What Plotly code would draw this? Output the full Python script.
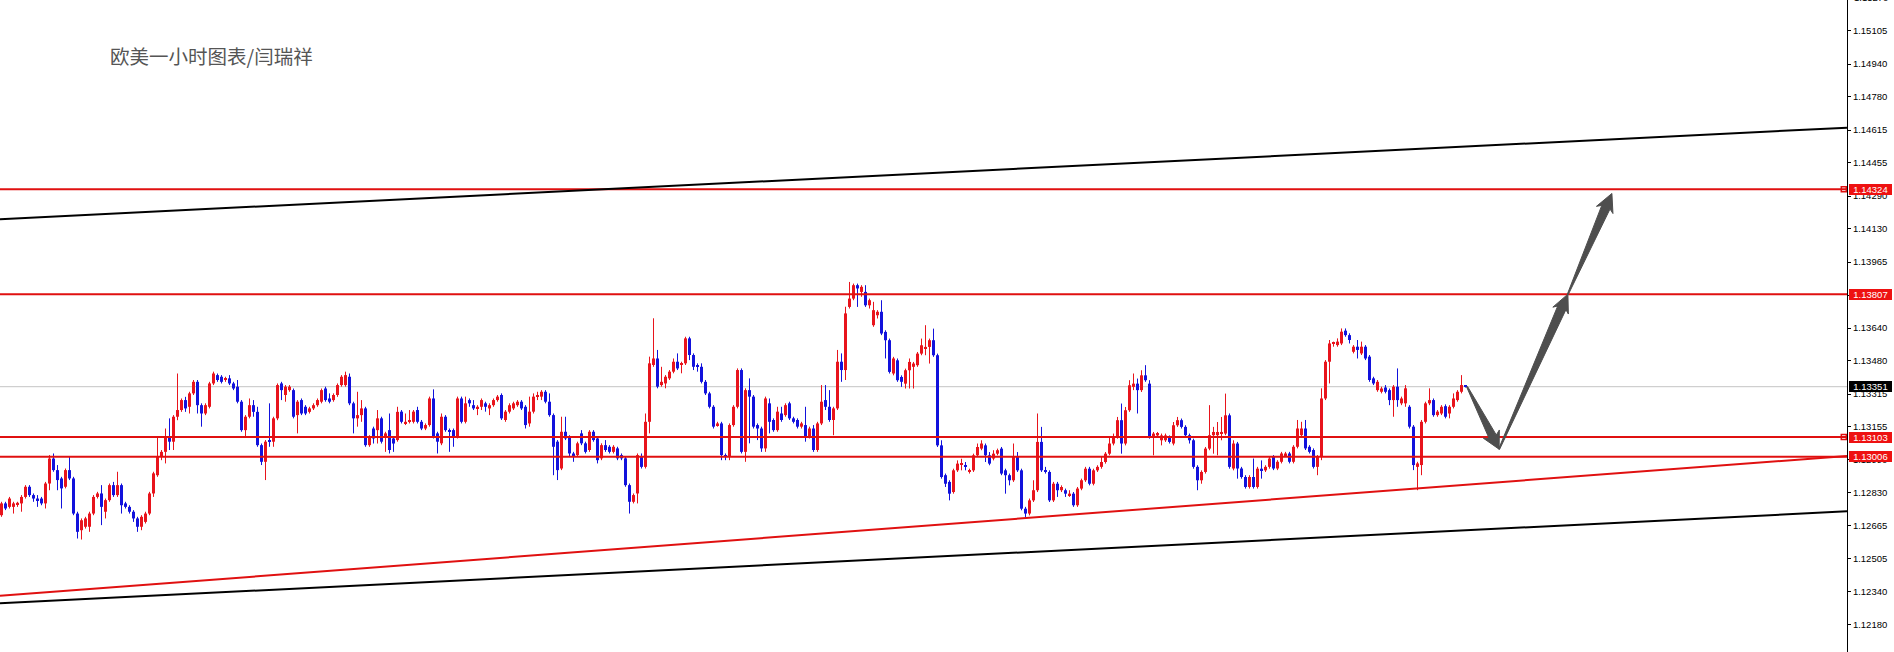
import math
import plotly.graph_objects as go

# ---------------- data (EURUSD 1h) ----------------
opens = [
1.12718,1.12776,1.12759,1.12759,1.12772,1.12776,1.12808,1.12858,1.12817,1.12800,
1.12800,1.12776,1.12874,1.12997,1.12940,1.12899,1.12858,1.12940,1.12899,1.12726,
1.12644,1.12661,1.12661,1.12726,1.12808,1.12825,1.12735,1.12792,1.12866,1.12817,
1.12866,1.12776,1.12759,1.12735,1.12702,1.12661,1.12685,1.12726,1.12825,1.12915,
1.13006,1.13030,1.13104,1.13080,1.13203,1.13236,1.13285,1.13252,1.13318,1.13375,
1.13260,1.13219,1.13252,1.13367,1.13408,1.13400,1.13384,1.13392,1.13367,1.13351,
1.13277,1.13137,1.13203,1.13260,1.13227,1.13063,1.12981,1.13088,1.13080,1.13195,
1.13367,1.13310,1.13334,1.13334,1.13211,1.13285,1.13252,1.13227,1.13244,1.13260,
1.13277,1.13342,1.13293,1.13285,1.13310,1.13359,1.13359,1.13400,1.13269,1.13195,
1.13211,1.13244,1.13063,1.13145,1.13137,1.13195,1.13104,1.13137,1.13096,1.13088,
1.13228,1.13170,1.13178,1.13178,1.13236,1.13178,1.13145,1.13162,1.13293,1.13121,
1.13072,1.13203,1.13137,1.13137,1.13104,1.13293,1.13178,1.13285,1.13260,1.13244,
1.13252,1.13269,1.13244,1.13260,1.13285,1.13310,1.13187,1.13228,1.13244,1.13260,
1.13277,1.13252,1.13170,1.13228,1.13302,1.13302,1.13326,1.13277,1.13211,1.13080,
1.12948,1.13129,1.13104,1.13022,1.13014,1.13121,1.13072,1.13039,1.13129,1.13096,
1.12998,1.13063,1.13055,1.13030,1.13047,1.13014,1.12998,1.12866,1.12784,1.12825,
1.13006,1.12956,1.13178,1.13458,1.13490,1.13359,1.13367,1.13392,1.13425,1.13474,
1.13458,1.13466,1.13589,1.13507,1.13458,1.13449,1.13375,1.13318,1.13252,1.13162,
1.13170,1.13014,1.13006,1.13162,1.13252,1.13433,1.13030,1.13334,1.13302,1.13162,
1.13145,1.13047,1.13269,1.13187,1.13137,1.13219,1.13211,1.13269,1.13195,1.13187,
1.13154,1.13162,1.13104,1.13145,1.13039,1.13170,1.13285,1.13252,1.13187,1.13244,
1.13474,1.13433,1.13744,1.13785,1.13851,1.13818,1.13818,1.13752,1.13654,1.13703,
1.13720,1.13621,1.13580,1.13416,1.13481,1.13399,1.13366,1.13432,1.13449,1.13457,
1.13514,1.13539,1.13547,1.13580,1.13506,1.13062,1.12915,1.12882,1.12832,1.12939,
1.12966,1.12964,1.12931,1.12939,1.13013,1.13046,1.13062,1.13013,1.12997,1.13021,
1.13046,1.12939,1.12915,1.12890,1.13005,1.12939,1.12750,1.12726,1.12791,1.12841,
1.13079,1.12939,1.12931,1.12791,1.12873,1.12841,1.12841,1.12816,1.12824,1.12767,
1.12849,1.12890,1.12947,1.12873,1.12939,1.12956,1.12980,1.13021,1.13071,1.13103,
1.13186,1.13071,1.13235,1.13350,1.13366,1.13334,1.13407,1.13366,1.13103,1.13111,
1.13087,1.13087,1.13103,1.13071,1.13161,1.13186,1.13153,1.13112,1.13087,1.12956,
1.12890,1.12931,1.13046,1.13112,1.13112,1.13120,1.13120,1.13210,1.12948,1.13071,
1.12948,1.12906,1.12857,1.12906,1.12857,1.12947,1.12939,1.12956,1.13006,1.12948,
1.12981,1.13014,1.13022,1.12981,1.13055,1.13112,1.13145,1.13055,1.13039,1.12956,
1.13006,1.13293,1.13474,1.13564,1.13556,1.13564,1.13627,1.13605,1.13523,1.13548,
1.13515,1.13548,1.13499,1.13392,1.13334,1.13326,1.13347,1.13334,1.13285,1.13351,
1.13269,1.13269,1.13252,1.13154,1.12956,1.12965,1.13178,1.13269,1.13285,1.13211,
1.13219,1.13255,1.13219,1.13252,1.13285,1.13326,1.13356,
]

highs = [
1.12784,1.12784,1.12808,1.12784,1.12784,1.12817,1.12866,1.12866,1.12825,1.12817,
1.12808,1.12882,1.13014,1.13022,1.12965,1.12907,1.12948,1.13006,1.12907,1.12735,
1.12702,1.12710,1.12735,1.12817,1.12833,1.12866,1.12800,1.12874,1.12882,1.12932,
1.12874,1.12784,1.12767,1.12743,1.12710,1.12718,1.12735,1.12833,1.12932,1.13108,
1.13039,1.13145,1.13195,1.13211,1.13416,1.13293,1.13301,1.13326,1.13384,1.13384,
1.13269,1.13269,1.13375,1.13425,1.13416,1.13408,1.13400,1.13408,1.13375,1.13384,
1.13285,1.13211,1.13293,1.13285,1.13252,1.13071,1.13088,1.13269,1.13203,1.13367,
1.13375,1.13359,1.13359,1.13342,1.13285,1.13293,1.13260,1.13252,1.13269,1.13293,
1.13342,1.13351,1.13318,1.13318,1.13367,1.13408,1.13425,1.13416,1.13277,1.13326,
1.13285,1.13252,1.13112,1.13154,1.13236,1.13203,1.13129,1.13219,1.13104,1.13252,
1.13236,1.13219,1.13236,1.13236,1.13252,1.13187,1.13170,1.13302,1.13338,1.13129,
1.13219,1.13211,1.13145,1.13145,1.13302,1.13302,1.13302,1.13293,1.13285,1.13260,
1.13293,1.13277,1.13269,1.13293,1.13310,1.13318,1.13236,1.13269,1.13277,1.13285,
1.13285,1.13260,1.13302,1.13318,1.13326,1.13334,1.13334,1.13318,1.13219,1.13088,
1.13203,1.13203,1.13112,1.13030,1.13080,1.13137,1.13080,1.13137,1.13137,1.13104,
1.13072,1.13088,1.13063,1.13063,1.13055,1.13022,1.13006,1.12874,1.12825,1.13022,
1.13022,1.13219,1.13499,1.13688,1.13532,1.13449,1.13408,1.13433,1.13490,1.13515,
1.13474,1.13597,1.13597,1.13515,1.13466,1.13466,1.13384,1.13326,1.13260,1.13178,
1.13178,1.13022,1.13170,1.13260,1.13441,1.13441,1.13343,1.13392,1.13310,1.13170,
1.13154,1.13302,1.13293,1.13195,1.13252,1.13252,1.13269,1.13277,1.13203,1.13195,
1.13178,1.13252,1.13154,1.13162,1.13178,1.13359,1.13359,1.13334,1.13252,1.13532,
1.13515,1.13745,1.13867,1.13859,1.13859,1.13851,1.13851,1.13785,1.13769,1.13728,
1.13777,1.13629,1.13588,1.13498,1.13490,1.13407,1.13440,1.13490,1.13473,1.13522,
1.13588,1.13654,1.13588,1.13637,1.13514,1.13087,1.12923,1.12890,1.12947,1.12988,
1.12996,1.12980,1.12947,1.13021,1.13071,1.13087,1.13071,1.13029,1.13038,1.13046,
1.13054,1.12947,1.12923,1.13071,1.13029,1.12947,1.12759,1.12800,1.12890,1.13219,
1.13153,1.12956,1.12939,1.12882,1.12882,1.12865,1.12849,1.12841,1.12832,1.12857,
1.12898,1.12956,1.12956,1.12947,1.12964,1.13005,1.13029,1.13103,1.13120,1.13202,
1.13268,1.13251,1.13383,1.13416,1.13391,1.13432,1.13457,1.13383,1.13128,1.13128,
1.13120,1.13120,1.13111,1.13177,1.13202,1.13194,1.13161,1.13120,1.13095,1.12964,
1.12939,1.13054,1.13260,1.13153,1.13177,1.13202,1.13317,1.13219,1.13087,1.13079,
1.12956,1.12915,1.12915,1.12997,1.12956,1.12988,1.12964,1.13005,1.13014,1.12989,
1.13030,1.13030,1.13030,1.13063,1.13187,1.13178,1.13187,1.13063,1.13047,1.13014,
1.13343,1.13482,1.13581,1.13573,1.13589,1.13638,1.13638,1.13614,1.13556,1.13581,
1.13573,1.13556,1.13507,1.13400,1.13384,1.13351,1.13359,1.13342,1.13359,1.13441,
1.13302,1.13359,1.13260,1.13162,1.12981,1.13187,1.13277,1.13343,1.13293,1.13236,
1.13260,1.13264,1.13260,1.13318,1.13334,1.13408,1.13359,
]

lows = [
1.12710,1.12743,1.12751,1.12726,1.12759,1.12735,1.12800,1.12808,1.12784,1.12759,
1.12767,1.12751,1.12841,1.12932,1.12841,1.12751,1.12850,1.12891,1.12718,1.12603,
1.12598,1.12652,1.12636,1.12718,1.12800,1.12669,1.12702,1.12784,1.12808,1.12808,
1.12726,1.12751,1.12726,1.12685,1.12636,1.12644,1.12677,1.12718,1.12808,1.12907,
1.12989,1.12973,1.13039,1.13039,1.13186,1.13227,1.13227,1.13219,1.13310,1.13219,
1.13154,1.13211,1.13244,1.13359,1.13375,1.13367,1.13375,1.13359,1.13334,1.13269,
1.13129,1.13104,1.13195,1.13203,1.13055,1.12965,1.12891,1.13055,1.13055,1.13186,
1.13285,1.13277,1.13326,1.13195,1.13121,1.13211,1.13211,1.13219,1.13236,1.13252,
1.13269,1.13277,1.13269,1.13277,1.13301,1.13351,1.13351,1.13260,1.13121,1.13154,
1.13178,1.13055,1.13055,1.13071,1.13071,1.13071,1.13030,1.13022,1.13030,1.13080,
1.13170,1.13162,1.13170,1.13170,1.13170,1.13137,1.13137,1.13154,1.13096,1.13022,
1.13063,1.13129,1.13030,1.13055,1.13096,1.13170,1.13170,1.13252,1.13236,1.13211,
1.13236,1.13228,1.13211,1.13252,1.13277,1.13187,1.13178,1.13219,1.13236,1.13252,
1.13236,1.13145,1.13154,1.13219,1.13285,1.13285,1.13269,1.13203,1.12915,1.12891,
1.12940,1.13088,1.13006,1.12981,1.13006,1.13063,1.13022,1.13030,1.13080,1.12973,
1.12989,1.13030,1.13022,1.13022,1.12989,1.12989,1.12858,1.12726,1.12776,1.12776,
1.12948,1.12948,1.13121,1.13449,1.13343,1.13351,1.13343,1.13384,1.13417,1.13433,
1.13417,1.13458,1.13482,1.13433,1.13425,1.13367,1.13310,1.13244,1.13145,1.13154,
1.12989,1.12989,1.12989,1.13154,1.13244,1.13022,1.12981,1.13072,1.13145,1.13088,
1.13030,1.13030,1.13121,1.13129,1.13129,1.13178,1.13203,1.13187,1.13170,1.13145,
1.13145,1.13080,1.13096,1.13030,1.13030,1.13162,1.13236,1.13178,1.13112,1.13236,
1.13375,1.13384,1.13736,1.13777,1.13744,1.13794,1.13744,1.13736,1.13646,1.13687,
1.13605,1.13490,1.13416,1.13407,1.13375,1.13350,1.13342,1.13342,1.13342,1.13449,
1.13506,1.13506,1.13465,1.13498,1.13054,1.12898,1.12857,1.12791,1.12824,1.12931,
1.12939,1.12939,1.12923,1.12931,1.13005,1.13038,1.12980,1.12964,1.12988,1.13013,
1.12915,1.12824,1.12865,1.12882,1.12931,1.12742,1.12709,1.12717,1.12783,1.12832,
1.12931,1.12923,1.12783,1.12783,1.12808,1.12832,1.12808,1.12808,1.12759,1.12759,
1.12841,1.12882,1.12865,1.12865,1.12931,1.12947,1.12972,1.13013,1.13062,1.13095,
1.13021,1.13062,1.13227,1.13334,1.13219,1.13325,1.13375,1.13095,1.13013,1.13103,
1.13062,1.13079,1.13071,1.13062,1.13153,1.13145,1.13103,1.13071,1.12947,1.12841,
1.12873,1.12923,1.13038,1.13021,1.13013,1.13087,1.13112,1.12947,1.12939,1.12898,
1.12898,1.12849,1.12849,1.12849,1.12849,1.12898,1.12931,1.12947,1.12940,1.12940,
1.12973,1.13006,1.12973,1.12973,1.13047,1.13104,1.13039,1.13022,1.12948,1.12915,
1.12989,1.13285,1.13367,1.13548,1.13548,1.13556,1.13597,1.13564,1.13515,1.13490,
1.13507,1.13482,1.13375,1.13359,1.13326,1.13318,1.13318,1.13260,1.13203,1.13252,
1.13260,1.13252,1.13145,1.12940,1.12841,1.12915,1.13170,1.13260,1.13203,1.13203,
1.13211,1.13195,1.13195,1.13244,1.13277,1.13318,1.13347,
]

closes = [
1.12776,1.12751,1.12800,1.12776,1.12779,1.12808,1.12858,1.12817,1.12800,1.12792,
1.12776,1.12874,1.12997,1.12940,1.12891,1.12850,1.12940,1.12899,1.12726,1.12636,
1.12693,1.12702,1.12726,1.12808,1.12825,1.12759,1.12792,1.12866,1.12817,1.12866,
1.12767,1.12759,1.12735,1.12702,1.12661,1.12710,1.12726,1.12825,1.12924,1.13006,
1.13030,1.13104,1.13080,1.13203,1.13236,1.13285,1.13244,1.13318,1.13375,1.13260,
1.13219,1.13260,1.13367,1.13416,1.13384,1.13375,1.13392,1.13367,1.13342,1.13277,
1.13137,1.13203,1.13260,1.13227,1.13063,1.12981,1.13080,1.13080,1.13195,1.13359,
1.13334,1.13351,1.13351,1.13203,1.13277,1.13219,1.13219,1.13244,1.13260,1.13285,
1.13334,1.13285,1.13277,1.13310,1.13359,1.13400,1.13408,1.13269,1.13195,1.13211,
1.13244,1.13063,1.13104,1.13096,1.13195,1.13080,1.13121,1.13039,1.13071,1.13227,
1.13178,1.13178,1.13187,1.13228,1.13178,1.13145,1.13162,1.13293,1.13104,1.13080,
1.13203,1.13137,1.13129,1.13104,1.13293,1.13178,1.13269,1.13269,1.13244,1.13252,
1.13285,1.13252,1.13260,1.13285,1.13302,1.13195,1.13228,1.13260,1.13269,1.13277,
1.13244,1.13162,1.13228,1.13302,1.13305,1.13326,1.13277,1.13211,1.13055,1.12940,
1.13129,1.13096,1.13022,1.13014,1.13072,1.13072,1.13030,1.13129,1.13088,1.12989,
1.13063,1.13039,1.13030,1.13055,1.12998,1.12998,1.12866,1.12784,1.12817,1.13014,
1.12956,1.13178,1.13466,1.13490,1.13351,1.13375,1.13400,1.13425,1.13474,1.13441,
1.13466,1.13589,1.13507,1.13449,1.13449,1.13375,1.13318,1.13252,1.13154,1.13170,
1.13014,1.13006,1.13162,1.13252,1.13433,1.13030,1.13334,1.13302,1.13154,1.13145,
1.13047,1.13293,1.13178,1.13137,1.13228,1.13187,1.13260,1.13195,1.13178,1.13154,
1.13170,1.13104,1.13145,1.13039,1.13170,1.13277,1.13252,1.13187,1.13244,1.13474,
1.13433,1.13712,1.13785,1.13851,1.13835,1.13843,1.13752,1.13777,1.13728,1.13720,
1.13613,1.13580,1.13424,1.13490,1.13383,1.13375,1.13432,1.13473,1.13465,1.13514,
1.13555,1.13547,1.13580,1.13506,1.13062,1.12906,1.12873,1.12824,1.12939,1.12972,
1.12975,1.12956,1.12939,1.13013,1.13054,1.13071,1.13013,1.12972,1.13021,1.13038,
1.12923,1.12915,1.12890,1.13005,1.12939,1.12750,1.12726,1.12791,1.12841,1.13079,
1.12939,1.12931,1.12791,1.12873,1.12841,1.12857,1.12824,1.12824,1.12767,1.12849,
1.12890,1.12947,1.12873,1.12939,1.12956,1.12980,1.13021,1.13071,1.13103,1.13186,
1.13071,1.13235,1.13358,1.13366,1.13334,1.13407,1.13383,1.13103,1.13120,1.13123,
1.13111,1.13111,1.13079,1.13161,1.13186,1.13153,1.13112,1.13087,1.12956,1.12890,
1.12931,1.13046,1.13112,1.13128,1.13128,1.13128,1.13210,1.12956,1.13071,1.12948,
1.12906,1.12857,1.12906,1.12857,1.12947,1.12939,1.12956,1.12997,1.12948,1.12981,
1.13022,1.13022,1.12981,1.13055,1.13145,1.13145,1.13047,1.13030,1.12956,1.13006,
1.13293,1.13474,1.13564,1.13568,1.13573,1.13622,1.13605,1.13581,1.13548,1.13532,
1.13548,1.13490,1.13384,1.13367,1.13375,1.13342,1.13326,1.13285,1.13351,1.13285,
1.13293,1.13343,1.13154,1.12965,1.12973,1.13178,1.13269,1.13285,1.13211,1.13228,
1.13252,1.13203,1.13252,1.13293,1.13326,1.13359,1.13351,
]

title_text = "欧美一小时图表/闫瑞祥"
price_ticks = [1.15105, 1.14940, 1.14780, 1.14615, 1.14455, 1.14290, 1.14130,
               1.13965, 1.13800, 1.13640, 1.13480, 1.13315, 1.13155, 1.12990,
               1.12830, 1.12665, 1.12505, 1.12340, 1.12180]
top_cut_tick = 1.15270
red_levels = [1.14324, 1.13807, 1.13103, 1.13006]
marked_levels = [1.14324, 1.13103]
current_price = 1.13351
channel_top = [1.14176, 1.14627]      # price at left edge, right edge
channel_bottom = [1.12284, 1.12737]
support_line = [1.12321, 1.13010]
# projected path: (bars after last candle, price)
forecast = [(0.4, 1.13351), (8.4, 1.13043), (25.6, 1.13807), (36.6, 1.14303)]

# ---------------- geometry ----------------
W, H = 1894, 652
R_MARGIN = 47
PLOT_W = W - R_MARGIN
BAR_PX = 4.0
X0 = -0.375
X1 = X0 + PLOT_W / BAR_PX
Y_RANGE = [1.12044, 1.15256]
PX_PER_PRICE = H / (Y_RANGE[1] - Y_RANGE[0])

RED = "#e8141c"
BLUE = "#1212dc"
LINE_RED = "#e01010"

n = len(closes)
idx = list(range(n))

fig = go.Figure()

# wicks
for col, cond in ((RED, lambda o, c: c >= o), (BLUE, lambda o, c: c < o)):
    xs, ys = [], []
    for i in idx:
        if cond(opens[i], closes[i]):
            xs += [i, i, None]
            ys += [lows[i], highs[i], None]
    fig.add_trace(go.Scatter(x=xs, y=ys, mode="lines",
                             line=dict(color=col, width=1),
                             hoverinfo="skip", showlegend=False))

# bodies
MIN_BODY = 0.00004
for col, cond in ((RED, lambda o, c: c >= o), (BLUE, lambda o, c: c < o)):
    bx, bb, bh = [], [], []
    for i in idx:
        if cond(opens[i], closes[i]):
            lo = min(opens[i], closes[i])
            hgt = abs(closes[i] - opens[i])
            if hgt < MIN_BODY:
                lo -= (MIN_BODY - hgt) / 2
                hgt = MIN_BODY
            bx.append(i); bb.append(lo); bh.append(hgt)
    fig.add_trace(go.Bar(x=bx, y=bh, base=bb, width=0.75,
                         marker=dict(color=col, line=dict(width=0)),
                         hoverinfo="skip", showlegend=False))

shapes = []
# current price line
shapes.append(dict(type="line", xref="x domain", yref="y", x0=0, x1=1,
                   y0=current_price, y1=current_price,
                   line=dict(color="#c4c4c4", width=1), layer="below"))
# horizontal levels
for v in red_levels:
    shapes.append(dict(type="line", xref="x domain", yref="y", x0=0, x1=1,
                       y0=v, y1=v, line=dict(color=LINE_RED, width=2)))
# channel & support lines
for (a, b), col in ((channel_top, "#000000"), (channel_bottom, "#000000"),
                    (support_line, LINE_RED)):
    shapes.append(dict(type="line", xref="x", yref="y", x0=X0, x1=X1,
                       y0=a, y1=b, line=dict(color=col, width=2)))


def to_px(x, y):
    return ((x - X0) * BAR_PX, (Y_RANGE[1] - y) * PX_PER_PRICE)


def to_data(px, py):
    return (px / BAR_PX + X0, Y_RANGE[1] - py / PX_PER_PRICE)


def arrow_path(p0, p1, w_tail, w_shaft, head_len, head_w):
    ax, ay = to_px(*p0)
    bx, by = to_px(*p1)
    dx, dy = bx - ax, by - ay
    L = math.hypot(dx, dy)
    ux, uy = dx / L, dy / L
    nx, ny = -uy, ux
    hx, hy = bx - ux * head_len, by - uy * head_len
    pts = [
        (ax + nx * w_tail / 2, ay + ny * w_tail / 2),
        (hx + nx * w_shaft / 2, hy + ny * w_shaft / 2),
        (hx - ux * 3 + nx * head_w / 2, hy - uy * 3 + ny * head_w / 2),
        (bx, by),
        (hx - ux * 3 - nx * head_w / 2, hy - uy * 3 - ny * head_w / 2),
        (hx - nx * w_shaft / 2, hy - ny * w_shaft / 2),
        (ax - nx * w_tail / 2, ay - ny * w_tail / 2),
    ]
    d = [to_data(*p) for p in pts]
    return "M " + " L ".join(f"{x:.4f},{y:.6f}" for x, y in d) + " Z"


last = n - 1
pts = [(last + dx, py) for dx, py in forecast]
arrow_specs = [(1, 8, 14, 18), (1, 9, 15, 17), (1, 9, 15, 18)]
for k, spec in enumerate(arrow_specs):
    shapes.append(dict(type="path", xref="x", yref="y",
                       path=arrow_path(pts[k], pts[k + 1], *spec),
                       fillcolor="#4e4e4e", line=dict(color="#4e4e4e", width=1)))

# small square handles at right end of two levels
fig.add_trace(go.Scatter(x=[X1 - 0.8] * len(marked_levels), y=marked_levels,
                         mode="markers", cliponaxis=False,
                         marker=dict(symbol="square", size=5, color="white",
                                     line=dict(color=LINE_RED, width=1.5)),
                         hoverinfo="skip", showlegend=False))

annotations = []
LABEL_FONT = "Liberation Sans"
for v in red_levels:
    annotations.append(dict(x=1, xref="paper", xanchor="left", xshift=2,
                            y=v, yref="y", yanchor="middle",
                            text=f"{v:.5f}", showarrow=False,
                            bgcolor="#ee1111", borderpad=0, borderwidth=0,
                            width=43, height=11,
                            font=dict(family=LABEL_FONT, size=9.5, color="white")))
annotations.append(dict(x=1, xref="paper", xanchor="left", xshift=2,
                        y=current_price, yref="y", yanchor="middle",
                        text=f"{current_price:.5f}", showarrow=False,
                        bgcolor="#000000", borderpad=0, borderwidth=0,
                        width=43, height=11,
                        font=dict(family=LABEL_FONT, size=9.5, color="white")))
# partially visible tick label at the very top edge
top_paper = 1 + (top_cut_tick - Y_RANGE[1]) * PX_PER_PRICE / H
annotations.append(dict(x=1, xref="paper", xanchor="left", xshift=5,
                        y=top_paper, yref="paper", yanchor="middle",
                        text=f"{top_cut_tick:.5f}", showarrow=False,
                        font=dict(family=LABEL_FONT, size=9.5, color="black")))
annotations.append(dict(x=108 / PLOT_W, xref="paper", xanchor="left",
                        y=1 - 55.5 / H, yref="paper", yanchor="middle",
                        text=title_text, showarrow=False,
                        font=dict(family="Noto Sans CJK SC", size=19.5,
                                  color="#555555")))

fig.update_layout(
    width=W, height=H,
    margin=dict(l=0, r=R_MARGIN, t=0, b=0, pad=0),
    paper_bgcolor="white", plot_bgcolor="white",
    barmode="overlay", showlegend=False,
    shapes=shapes, annotations=annotations,
    xaxis=dict(range=[X0, X1], visible=False, fixedrange=True),
    yaxis=dict(range=Y_RANGE, side="right", showline=True, linecolor="black",
               linewidth=1, ticks="outside", ticklen=3, tickcolor="black",
               tickvals=price_ticks, ticktext=[f"{v:.5f}" for v in price_ticks],
               tickfont=dict(family=LABEL_FONT, size=9.5, color="black"),
               showgrid=False, zeroline=False, fixedrange=True),
)

fig.write_html("out.html", config={"displayModeBar": False},
               post_script="document.body.style.margin='0';document.body.style.overflow='hidden';")
